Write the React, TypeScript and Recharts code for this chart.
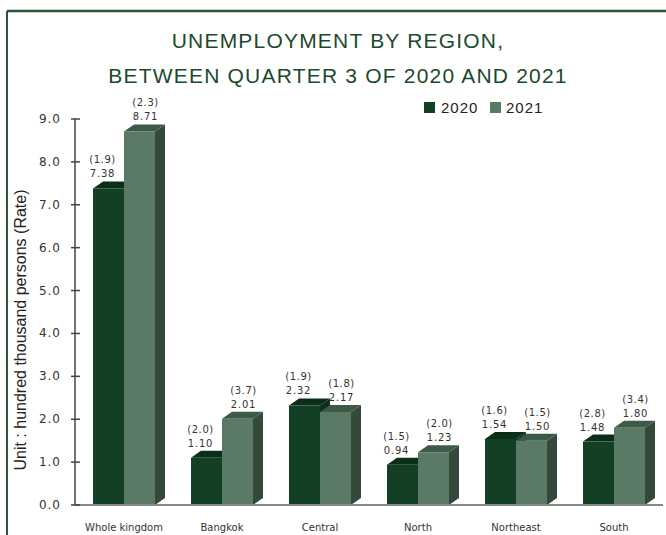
import React from 'react';
import { BarChart, Bar, XAxis, YAxis, Customized, LabelList } from 'recharts';

const categories = ['Whole kingdom', 'Bangkok', 'Central', 'North', 'Northeast', 'South'];
const values2020 = [7.38, 1.10, 2.32, 0.94, 1.54, 1.48];
const values2021 = [8.71, 2.01, 2.17, 1.23, 1.50, 1.80];
const rates2020 = ['(1.9)', '(2.0)', '(1.9)', '(1.5)', '(1.6)', '(2.8)'];
const rates2021 = ['(2.3)', '(3.7)', '(1.8)', '(2.0)', '(1.5)', '(3.4)'];
const yTicks = [0, 1, 2, 3, 4, 5, 6, 7, 8, 9];
const titleLines = ['UNEMPLOYMENT BY REGION,', 'BETWEEN QUARTER 3 OF 2020 AND 2021'];
const seriesNames = ['2020', '2021'];

const data = categories.map((c, i) => ({
  name: c,
  v2020: values2020[i],
  v2021: values2021[i],
}));

const DX = 10;
const DY = 7;
const FONT = 'DejaVu Sans, sans-serif';
const SANS = 'Liberation Sans, Arial, sans-serif';

const make3D = (front: string, top: string, side: string) => (props: any) => {
  const { x, y, width, height } = props;
  if (height == null || width == null) return null;
  return (
    <g>
      <polygon
        points={`${x + width},${y} ${x + width + DX},${y - DY} ${x + width + DX},${y + height - DY} ${x + width},${y + height}`}
        fill={side}
      />
      <polygon
        points={`${x},${y} ${x + DX},${y - DY} ${x + width + DX},${y - DY} ${x + width},${y}`}
        fill={top}
      />
      <rect x={x} y={y} width={width} height={height} fill={front} />
    </g>
  );
};

const makeLabel = (rates: string[], values: number[], offset: number) => (props: any) => {
  const { x, y, width, index } = props;
  const cx = x + width / 2 + offset;
  const base = y - DY - 4;
  return (
    <g>
      <text x={cx} y={base - 14} textAnchor="middle" fontFamily={FONT} fontSize={10} letterSpacing={0.6} fill="#333">
        {rates[index]}
      </text>
      <text x={cx} y={base} textAnchor="middle" fontFamily={FONT} fontSize={10} letterSpacing={0.8} fill="#333">
        {values[index].toFixed(2)}
      </text>
    </g>
  );
};

const YTick = (props: any) => {
  const { x, y, payload } = props;
  return (
    <g>
      <line x1={x - 4} x2={x + 5} y1={y} y2={y} stroke="#444" strokeWidth={1.5} />
      <text x={x - 14} y={y + 4} textAnchor="end" fontFamily={FONT} fontSize={12} letterSpacing={1} fill="#333">
        {Number(payload.value).toFixed(1)}
      </text>
    </g>
  );
};

const XTick = (props: any) => {
  const { x, y, payload } = props;
  return (
    <text x={x} y={y + 18} textAnchor="middle" fontFamily={FONT} fontSize={10} fill="#333">
      {payload.value}
    </text>
  );
};

const Decor = () => (
  <g>
    <line x1={7} y1={11} x2={666} y2={11} stroke="#2b5538" strokeWidth={2.5} />
    <line x1={7} y1={11} x2={7} y2={535} stroke="#2b5538" strokeWidth={2} />
    {titleLines.map((t, i) => (
      <text
        key={i}
        x={338}
        y={48 + i * 35}
        textAnchor="middle"
        fontFamily={SANS}
        fontSize={21}
        letterSpacing={1.2}
        fill="#1b4a2b"
      >
        {t}
      </text>
    ))}
    <rect x={424} y={102} width={11} height={11} fill="#133f24" />
    <text x={441} y={113} fontFamily={SANS} fontSize={15} letterSpacing={1} fill="#222">{seriesNames[0]}</text>
    <rect x={490} y={102} width={11} height={11} fill="#5b7a66" />
    <text x={506} y={113} fontFamily={SANS} fontSize={15} letterSpacing={1} fill="#222">{seriesNames[1]}</text>
    <text
      x={26}
      y={330}
      transform="rotate(-90 26 330)"
      textAnchor="middle"
      fontFamily={SANS}
      fontSize={16}
      fill="#222"
    >
      Unit : hundred thousand persons (Rate)
    </text>
  </g>
);

export default function App() {
  return (
    <div style={{ position: 'absolute', left: 0, top: 0, width: 666, height: 535, background: '#fff' }}>
      <BarChart
        width={666}
        height={535}
        data={data}
        margin={{ top: 119, right: 3, bottom: 0, left: 0 }}
        barCategoryGap={18}
        barGap={0}
      >
        <XAxis
          dataKey="name"
          tickLine={false}
          axisLine={{ stroke: '#888', strokeWidth: 2 }}
          tick={<XTick />}
          height={30}
          interval={0}
        />
        <YAxis
          domain={[0, 9]}
          ticks={yTicks}
          width={75}
          tickLine={false}
          tickSize={0}
          tickMargin={0}
          axisLine={{ stroke: '#444', strokeWidth: 1.5 }}
          tick={<YTick />}
          interval={0}
        />
        <Bar dataKey="v2020" isAnimationActive={false} shape={make3D('#133f24', '#0b2e18', '#0e3019')}>
          <LabelList dataKey="v2020" content={makeLabel(rates2020, values2020, -6)} />
        </Bar>
        <Bar dataKey="v2021" isAnimationActive={false} shape={make3D('#5b7a66', '#3d5a46', '#34493b')}>
          <LabelList dataKey="v2021" content={makeLabel(rates2021, values2021, 6)} />
        </Bar>
        <Customized component={Decor} />
      </BarChart>
    </div>
  );
}
